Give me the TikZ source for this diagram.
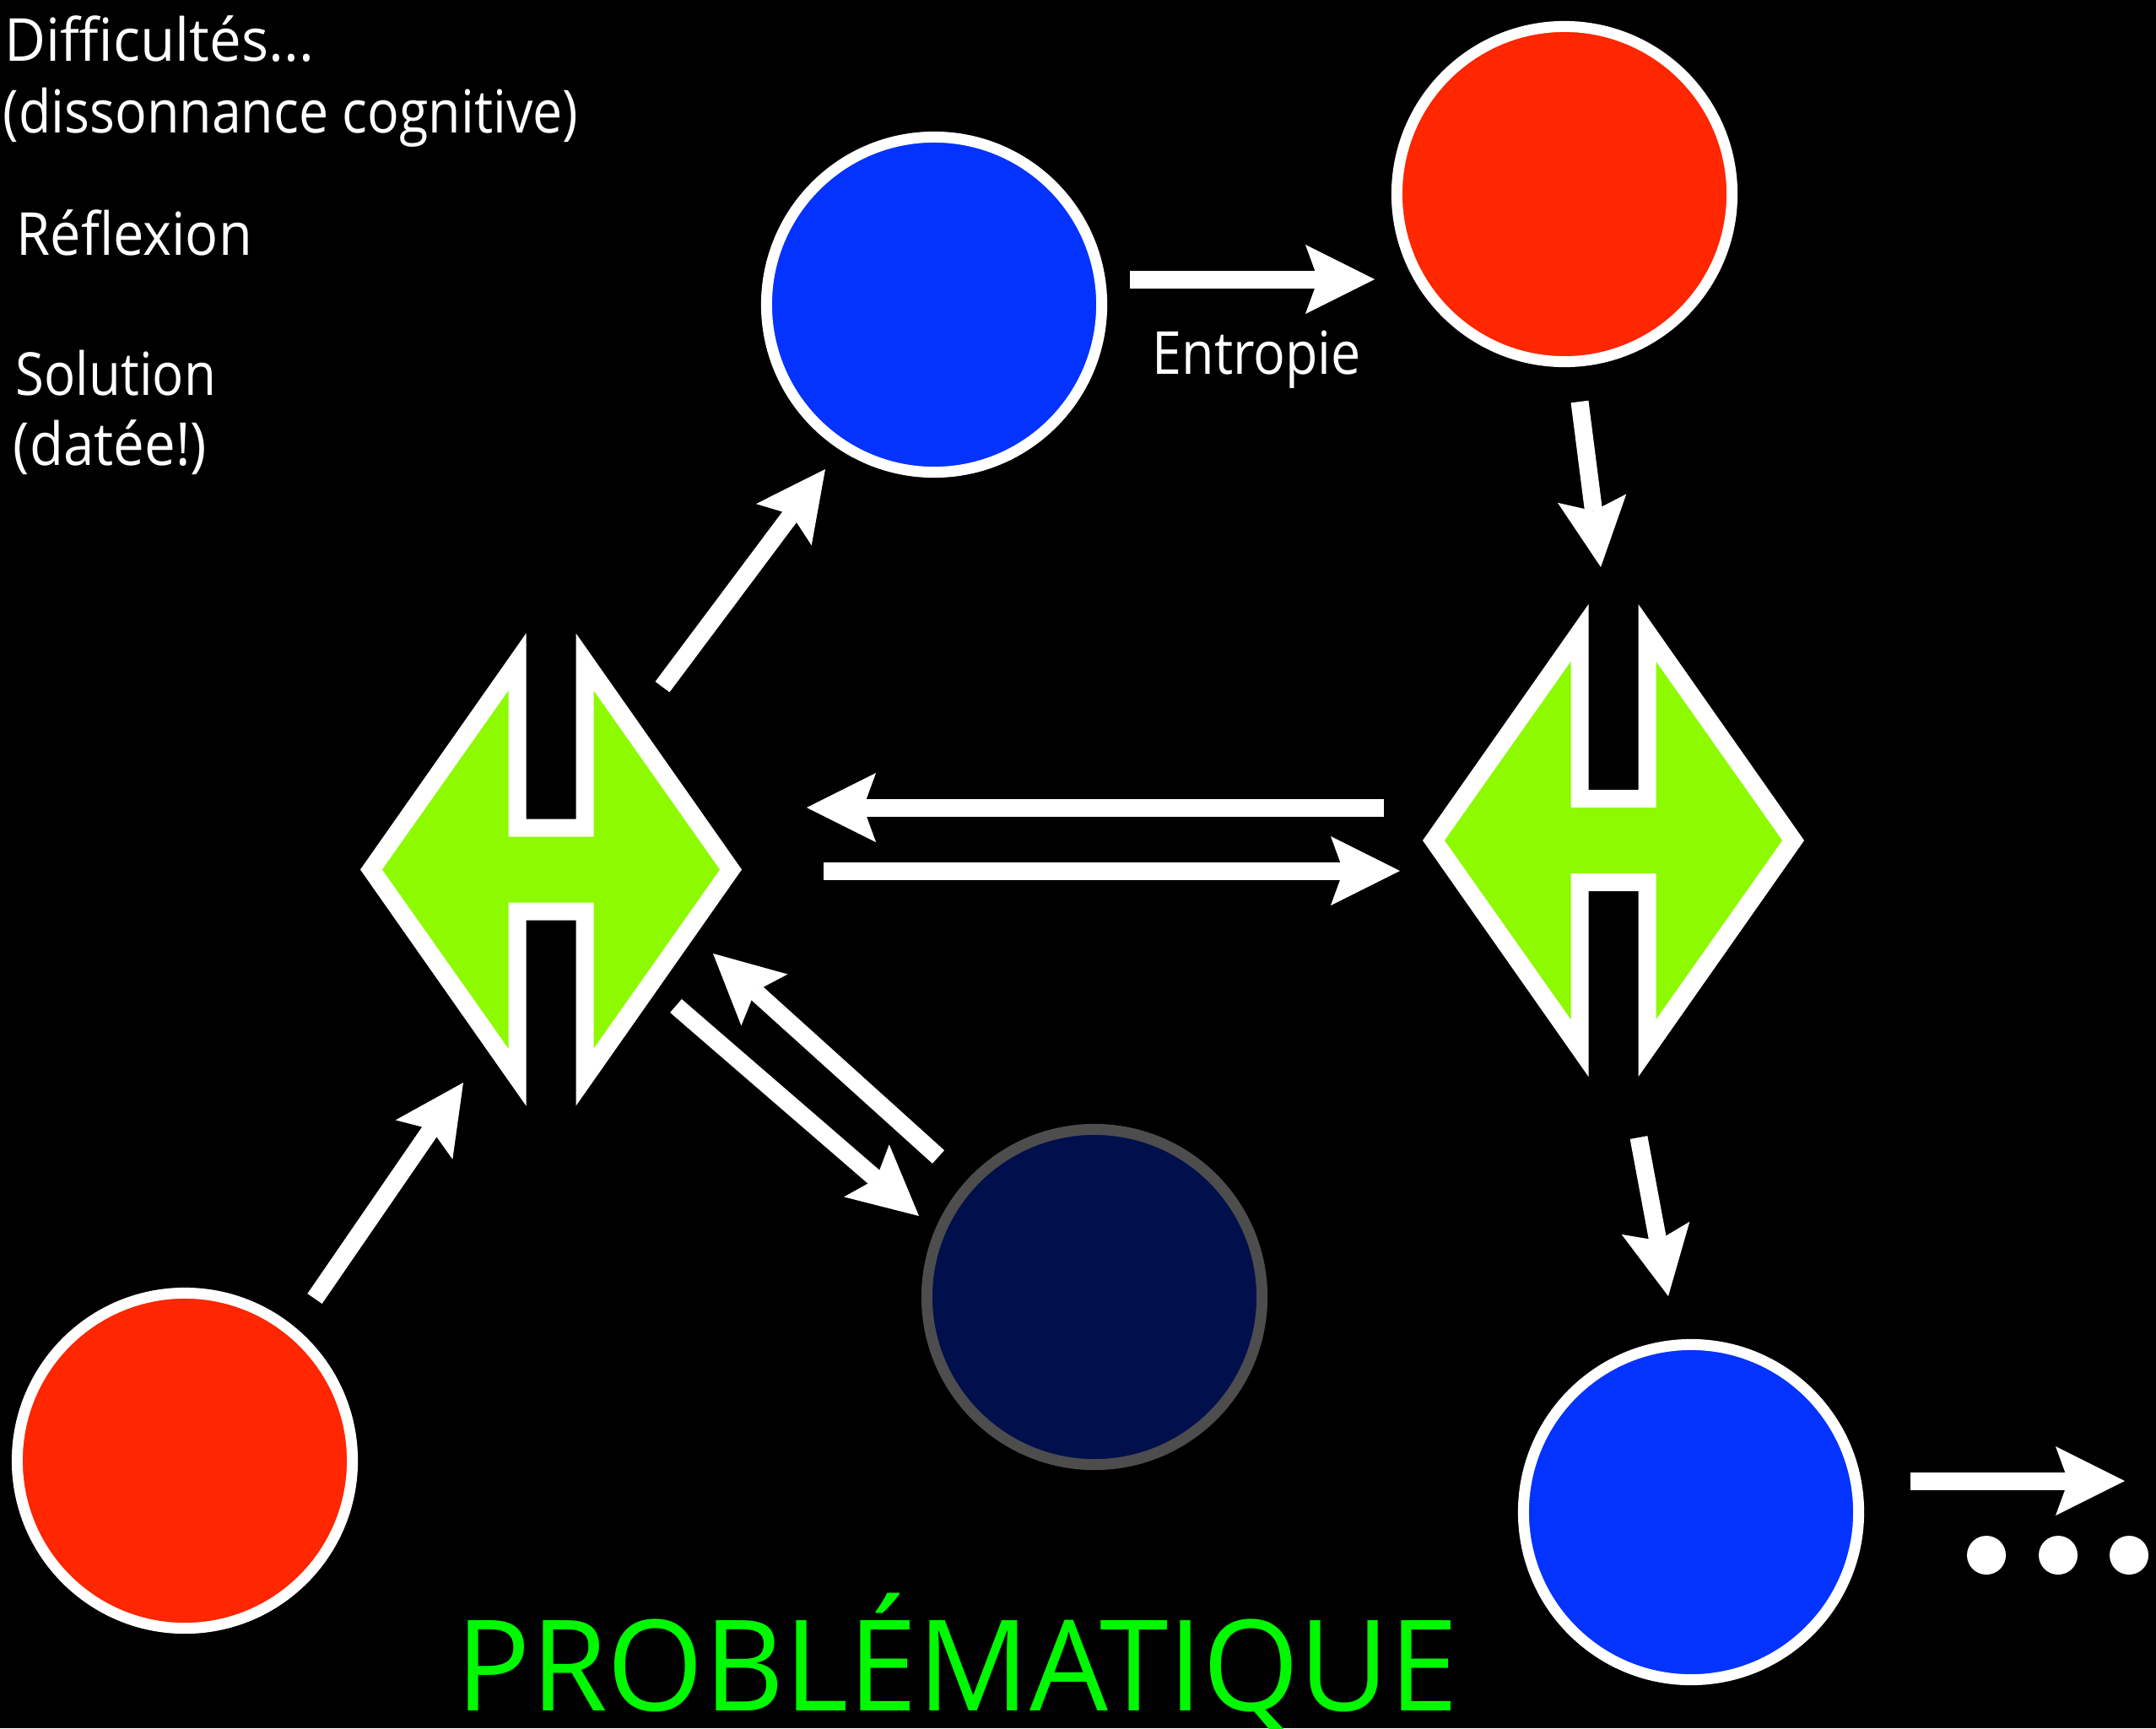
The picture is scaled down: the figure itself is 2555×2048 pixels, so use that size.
\documentclass[tikz,border=0pt]{standalone}
\usepackage{fontspec}
\setmainfont{Open Sans}
\usetikzlibrary{arrows.meta}
\definecolor{cblue}{RGB}{4,51,255}
\definecolor{cred}{RGB}{255,38,0}
\definecolor{cgreen}{RGB}{142,250,0}
\definecolor{ctext}{RGB}{0,249,0}
\definecolor{cnavy}{RGB}{1,16,76}
\definecolor{cgray}{RGB}{77,77,77}
\newcommand\fitw[2]{\resizebox{#1}{\height}{#2}}
\tikzset{
  hdiam/.pic={
    \fill[white] (-226,0) -- (-29.5,-280) -- (-29.5,-60) -- (29.5,-60) -- (29.5,-280)
      -- (226,0) -- (29.5,280) -- (29.5,60) -- (-29.5,60) -- (-29.5,280) -- cycle;
    \fill[cgreen] (-200,0) -- (-50.5,-212) -- (-50.5,-39) -- (50.5,-39) -- (50.5,-212)
      -- (200,0) -- (50.5,212) -- (50.5,39) -- (-50.5,39) -- (-50.5,212) -- cycle;
  },
  disc/.style={circle, minimum size=3.97cm, inner sep=0pt, line width=0.13cm},
  wdisc/.style={disc, draw=white},
  arr/.style={white, line width=0.21cm,
    -{Stealth[length=0.82cm, width=0.82cm, inset=0.15cm, line width=0pt]}},
  lbl/.style={anchor=base west, inner sep=0pt, text=white, font=\fontsize{20}{24}\selectfont},
  dotnode/.style={circle, fill=white, inner sep=0pt, minimum size=0.46cm}
}
\begin{document}
\begin{tikzpicture}[x=0.01cm,y=-0.01cm]
\useasboundingbox (0,0) rectangle (2555,2048);
\fill[black] (0,0) rectangle (2555,2048);

% circles
\node[wdisc, fill=cblue] (blueTop) at (1107,361) {};
\node[wdisc, fill=cred] (redTop) at (1854,230) {};
\node[wdisc, fill=cred] (redBL) at (219,1731) {};
\node[disc, draw=cgray, fill=cnavy] (navy) at (1297,1537) {};
\node[wdisc, fill=cblue] (blueBR) at (2004,1792) {};

% diamonds
\coordinate (dL) at (653,1030.5);
\coordinate (dR) at (1912,996);
\pic at (dL) {hdiam};
\pic at (dR) {hdiam};

% arrow end points
\coordinate (a1s) at (1339,331);   \coordinate (a1e) at (1629,331);
\coordinate (a2s) at (1872,476);   \coordinate (a2e) at (1897,672);
\coordinate (a3s) at (785,814);    \coordinate (a3e) at (978,556);
\coordinate (a4s) at (373,1539);   \coordinate (a4e) at (549,1283);
\coordinate (a5s) at (801,1192);   \coordinate (a5e) at (1089,1441);
\coordinate (a6s) at (1112,1371);  \coordinate (a6e) at (845,1130);
\coordinate (a7s) at (1640,957);   \coordinate (a7e) at (956,957);
\coordinate (a8s) at (975.5,1032); \coordinate (a8e) at (1659,1032);
\coordinate (a9s) at (1942,1348);  \coordinate (a9e) at (1977,1536);
\coordinate (a10s) at (2264,1755); \coordinate (a10e) at (2518,1755);

\draw[arr] (a1s) -- (a1e);
\draw[arr] (a2s) -- (a2e);
\draw[arr] (a3s) -- (a3e);
\draw[arr] (a4s) -- (a4e);
\draw[arr] (a5s) -- (a5e);
\draw[arr] (a6s) -- (a6e);
\draw[arr] (a7s) -- (a7e);
\draw[arr] (a8s) -- (a8e);
\draw[arr] (a9s) -- (a9e);
\draw[arr] (a10s) -- (a10e);

% dots
\node[dotnode] (dot1) at (2354,1843) {};
\node[dotnode] (dot2) at (2439,1843) {};
\node[dotnode] (dot3) at (2523,1843) {};

% texts
\node[lbl] (t1) at (5,72) {\fitw{3.66cm}{Difficultés...}};
\node[lbl] (t2) at (3,157) {\fitw{6.81cm}{(dissonnance cognitive)}};
\node[lbl] (t3) at (19,302) {\fitw{2.79cm}{Réflexion}};
\node[lbl] (t4) at (18,468) {\fitw{2.37cm}{Solution}};
\node[lbl] (t5) at (15,551) {\fitw{2.29cm}{(datée!)}};
\node[lbl] (t6) at (1365,443) {\fitw{2.47cm}{Entropie}};
\node[lbl, text=ctext, font=\fontsize{42.6}{48}\selectfont] (title) at (540,2027) {\fitw{11.87cm}{PROBLÉMATIQUE}};
\end{tikzpicture}
\end{document}
